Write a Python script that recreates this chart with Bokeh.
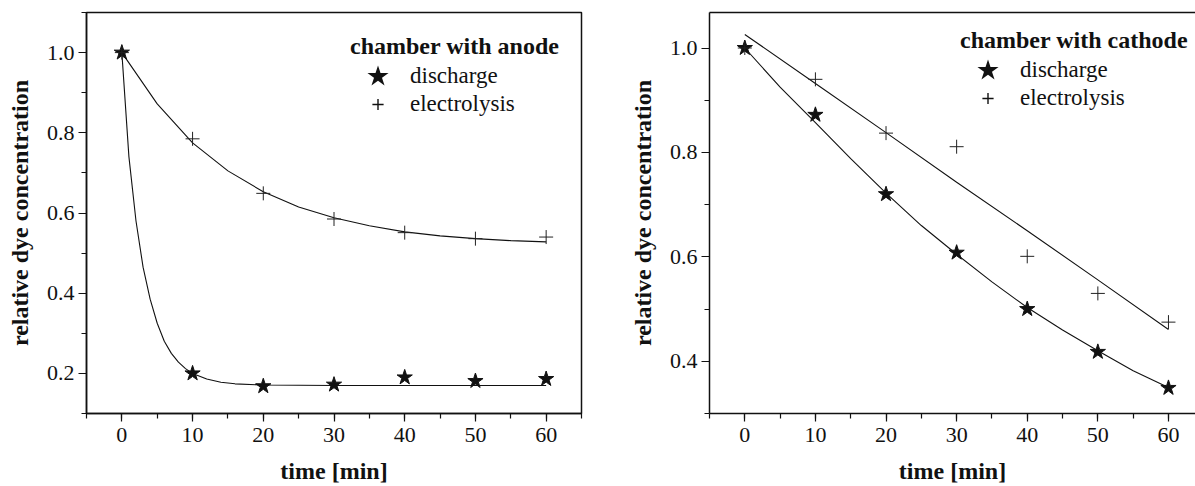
from bokeh.plotting import figure
from bokeh.layouts import row
from bokeh.models import (Range1d, SingleIntervalTicker, FixedTicker, LinearAxis, Legend,
                          LegendItem, PrintfTickFormatter)
from bokeh.embed import file_html
from bokeh.resources import INLINE

# ---------------- data ----------------
time_pts = [0, 10, 20, 30, 40, 50, 60]

anode_discharge = [1.0, 0.200, 0.168, 0.172, 0.190, 0.181, 0.186]
anode_electrolysis = [1.0, 0.785, 0.649, 0.585, 0.551, 0.536, 0.540]
cathode_discharge = [1.0, 0.872, 0.720, 0.608, 0.500, 0.418, 0.349]
cathode_electrolysis = [1.0, 0.940, 0.837, 0.811, 0.601, 0.530, 0.475]

anode_discharge_fit_t = [0, 1, 2, 3, 4, 5, 6, 7, 8, 9, 10, 12, 14, 16, 20, 30, 40, 50, 60]
anode_discharge_fit = [1.0, 0.74, 0.58, 0.465, 0.385, 0.325, 0.28, 0.25, 0.228, 0.212,
                       0.200, 0.186, 0.178, 0.174, 0.171, 0.170, 0.170, 0.170, 0.170]

anode_electrolysis_fit_t = [0, 5, 10, 15, 20, 25, 30, 35, 40, 45, 50, 55, 60]
anode_electrolysis_fit = [1.0, 0.872, 0.775, 0.705, 0.653, 0.615, 0.588, 0.568,
                          0.553, 0.543, 0.536, 0.531, 0.528]

cathode_discharge_fit_t = [0, 5, 10, 15, 20, 25, 30, 35, 40, 45, 50, 55, 60]
cathode_discharge_fit = [1.0, 0.925, 0.857, 0.788, 0.722, 0.660, 0.605, 0.552,
                         0.503, 0.460, 0.420, 0.382, 0.350]

cathode_electrolysis_fit_t = [0, 10, 20, 30, 40, 50, 60]
cathode_electrolysis_fit = [1.026, 0.932, 0.838, 0.743, 0.650, 0.556, 0.461]

y_tick_format = "%.1f"
x_label = "time [min]"
y_label = "relative dye concentration"
series_labels = ["discharge", "electrolysis"]
titles = ["chamber with anode", "chamber with cathode"]

SERIF = "'Liberation Serif', 'Times New Roman', serif"
INK = "#111111"
NAN = float("nan")


def make_fig(width, x_end, y_start, y_end, min_left, min_right, boxed):
    p = figure(width=width, height=486, output_backend="svg", toolbar_location=None,
               x_range=Range1d(-5, x_end), y_range=Range1d(y_start, y_end),
               min_border_left=min_left, min_border_right=min_right,
               min_border_top=12, min_border_bottom=73)
    p.grid.visible = False
    p.background_fill_color = "white"
    p.border_fill_color = "white"
    if boxed:
        p.outline_line_color = INK
        p.outline_line_width = 1.5
    else:
        p.outline_line_color = None
    p.xaxis.ticker = SingleIntervalTicker(interval=10, num_minor_ticks=2)
    p.yaxis.ticker = SingleIntervalTicker(interval=0.2, num_minor_ticks=2)
    p.yaxis.formatter = PrintfTickFormatter(format=y_tick_format)
    for ax in (p.xaxis[0], p.yaxis[0]):
        ax.axis_line_width = 1.5
        ax.axis_line_color = INK
        ax.major_tick_in = 0
        ax.major_tick_out = 8
        ax.minor_tick_in = 0
        ax.minor_tick_out = 5
        ax.major_tick_line_color = INK
        ax.minor_tick_line_color = INK
        ax.major_tick_line_width = 1.2
        ax.minor_tick_line_width = 1.2
        ax.major_label_text_font = SERIF
        ax.major_label_text_font_size = "22px"
        ax.major_label_text_color = INK
        ax.axis_label_text_font = SERIF
        ax.axis_label_text_font_size = "24px"
        ax.axis_label_text_font_style = "bold"
        ax.axis_label_text_color = INK
    p.xaxis.axis_label = x_label
    p.yaxis.axis_label = y_label
    p.xaxis.major_label_standoff = 6
    p.xaxis.axis_label_standoff = 13
    p.yaxis.major_label_standoff = 4
    p.yaxis.axis_label_standoff = 11
    return p


def add_series(p, disc, elec, disc_fit_t, disc_fit, elec_fit_t, elec_fit, title, loc):
    p.line(disc_fit_t, disc_fit, line_color=INK, line_width=1.1)
    p.line(elec_fit_t, elec_fit, line_color=INK, line_width=1.1)
    p.scatter(time_pts, disc, marker="star", size=16, fill_color=INK,
              line_color=INK, line_width=1)
    p.scatter(time_pts, elec, marker="cross", size=14, line_color="#222222",
              line_width=1)
    # legend keys: undrawn (NaN) renderers, styled for the legend only
    k_star = p.scatter([NAN], [NAN], marker="star", fill_color=INK, line_color=INK,
                       line_width=3.4, line_join="miter")
    k_plus = p.scatter([NAN], [NAN], marker="cross", line_color=INK, line_width=1.4)
    leg = Legend(items=[LegendItem(label=series_labels[0], renderers=[k_star]),
                        LegendItem(label=series_labels[1], renderers=[k_plus])],
                 location=loc, title=title)
    leg.title_text_font = SERIF
    leg.title_text_font_style = "bold"
    leg.title_text_font_size = "24px"
    leg.title_text_color = INK
    leg.title_standoff = 2
    leg.label_text_font = SERIF
    leg.label_text_font_size = "23px"
    leg.label_text_color = INK
    leg.glyph_width = 55
    leg.glyph_height = 28
    leg.label_height = 28
    leg.label_standoff = 5
    leg.spacing = 0
    leg.padding = 0
    leg.margin = 0
    leg.background_fill_alpha = 0
    leg.border_line_color = None
    p.add_layout(leg)


p1 = make_fig(620, 65, 0.1, 1.1, 86, 39, True)
add_series(p1, anode_discharge, anode_electrolysis,
           anode_discharge_fit_t, anode_discharge_fit,
           anode_electrolysis_fit_t, anode_electrolysis_fit,
           titles[0], (264, 295))

p2 = make_fig(575, 63.83, 0.3, 1.068, 89, 0, False)
top_axis = LinearAxis(ticker=FixedTicker(ticks=[]), major_tick_line_color=None,
                      minor_tick_line_color=None, major_label_standoff=0,
                      axis_line_width=1.5, axis_line_color=INK)
p2.add_layout(top_axis, "above")
add_series(p2, cathode_discharge, cathode_electrolysis,
           cathode_discharge_fit_t, cathode_discharge_fit,
           cathode_electrolysis_fit_t, cathode_electrolysis_fit,
           titles[1], (251, 301))

layout = row(p1, p2)
open("out.html", "w").write(file_html(layout, INLINE))
